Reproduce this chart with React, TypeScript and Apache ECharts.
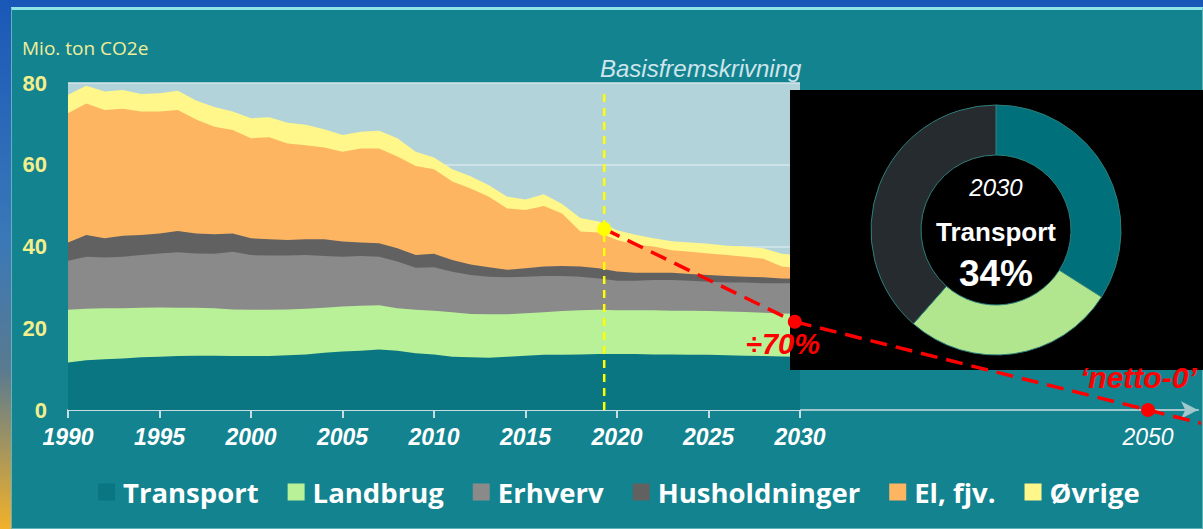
import React, { useEffect, useRef } from "react";
import * as echarts from "echarts";

const years = [
  1990, 1991, 1992, 1993, 1994, 1995, 1996, 1997, 1998, 1999,
  2000, 2001, 2002, 2003, 2004, 2005, 2006, 2007, 2008, 2009,
  2010, 2011, 2012, 2013, 2014, 2015, 2016, 2017, 2018, 2019,
  2020, 2021, 2022, 2023, 2024, 2025, 2026, 2027, 2028, 2029, 2030,
];

const transport = [
  11.6, 12.2, 12.4, 12.6, 12.9, 13.0, 13.2, 13.3, 13.3, 13.2,
  13.2, 13.2, 13.4, 13.6, 14.0, 14.3, 14.5, 14.8, 14.5, 13.9,
  13.6, 13.0, 12.9, 12.8, 13.0, 13.3, 13.5, 13.5, 13.6, 13.7,
  13.7, 13.7, 13.6, 13.6, 13.5, 13.5, 13.4, 13.3, 13.2, 13.1, 13.0,
];
const landbrug = [
  12.9, 12.6, 12.5, 12.3, 12.1, 12.1, 11.8, 11.7, 11.6, 11.4,
  11.3, 11.3, 11.2, 11.2, 11.0, 11.0, 11.0, 10.8, 10.4, 10.6,
  10.7, 10.9, 10.6, 10.6, 10.4, 10.4, 10.4, 10.7, 10.8, 10.8,
  10.7, 10.7, 10.8, 10.7, 10.8, 10.7, 10.7, 10.7, 10.6, 10.5, 10.5,
];
const erhverv = [
  12.0, 12.7, 12.4, 12.6, 12.9, 13.2, 13.6, 13.3, 13.3, 14.1,
  13.4, 13.3, 13.2, 13.1, 12.7, 12.2, 12.2, 11.9, 11.4, 10.3,
  10.6, 9.9, 9.5, 9.2, 9.1, 8.9, 8.9, 8.6, 8.2, 7.7,
  7.2, 7.2, 7.4, 7.5, 7.3, 7.2, 7.1, 7.2, 7.2, 7.4, 7.5,
];
const husholdninger = [
  4.5, 5.3, 4.7, 5.1, 4.9, 4.9, 5.2, 4.9, 4.8, 4.5,
  4.1, 4.0, 3.8, 3.9, 4.1, 3.7, 3.3, 3.3, 3.3, 3.1,
  3.3, 2.9, 2.6, 2.3, 1.8, 2.1, 2.3, 2.4, 2.5, 2.5,
  2.3, 2.0, 1.8, 1.8, 1.7, 1.6, 1.6, 1.4, 1.5, 1.2, 1.1,
];
const elFjv = [
  31.6, 32.2, 31.4, 31.1, 30.2, 29.8, 29.6, 27.9, 26.3, 25.3,
  24.5, 24.9, 23.6, 23.0, 22.4, 22.0, 23.0, 23.2, 22.4, 21.8,
  20.7, 19.2, 18.6, 17.3, 15.0, 14.2, 14.8, 12.9, 8.6, 8.7,
  7.7, 6.8, 6.4, 5.5, 5.4, 5.3, 5.1, 4.9, 4.5, 2.9, 2.5,
];
const ovrige = [
  4.5, 4.3, 4.5, 4.6, 4.3, 4.5, 4.7, 4.6, 4.8, 4.5,
  4.9, 4.9, 5.1, 5.0, 4.5, 4.1, 4.1, 4.3, 4.5, 3.5,
  2.9, 3.0, 3.0, 2.8, 2.9, 2.6, 2.9, 2.3, 3.3, 2.7,
  2.4, 2.5, 2.0, 2.2, 2.3, 2.4, 2.3, 2.5, 2.6, 3.1, 3.2,
];

const seriesNames = ["Transport", "Landbrug", "Erhverv", "Husholdninger", "El, fjv.", "Øvrige"];
const seriesValues = [transport, landbrug, erhverv, husholdninger, elFjv, ovrige];
const seriesColors = ["#0a7682", "#b9f198", "#8a8a8a", "#616161", "#fdb562", "#fff78a"];

const yTicks = { min: 0, max: 80, interval: 20 };

// Basisfremskrivning & target path
const basisYear = 2019.3;
const basisTop = 78.3;
const basisPoint = [2019.3, 44.3];
const target2030 = [2029.7, 21.6];
const target2050 = [2050, 0];
const pathEnd = [2053.2, -3.4];

// Donut for 2030
const donutNames = ["Transport", "Landbrug", "Øvrige sektorer"];
const donutValues = [34, 27.5, 38.5];
const donutColors = ["#00707a", "#b1e68e", "#262b2f"];

export default function App() {
  const ref = useRef<HTMLDivElement>(null);

  useEffect(() => {
    if (!ref.current) return;
    const chart = echarts.init(ref.current, undefined, { renderer: "svg" });

    // cumulative tops of the stack (value x-axis, so stacking is done here)
    const cumulative: number[][] = [];
    seriesValues.forEach((vals, i) => {
      cumulative.push(vals.map((v, j) => +(v + (i > 0 ? cumulative[i - 1][j] : 0)).toFixed(2)));
    });

    // draw top layer first so lower layers paint over it
    const areaSeries = seriesNames
      .map((name, i) => ({
        name,
        type: "line",
        xAxisIndex: 0,
        yAxisIndex: 0,
        symbol: "none",
        lineStyle: { width: 0 },
        areaStyle: { color: seriesColors[i], opacity: 1, origin: "start" },
        itemStyle: { color: seriesColors[i] },
        data: years.map((y, j) => [y, cumulative[i][j]]),
        z: 2,
        silent: true,
      }))
      .reverse();

    const yearLabel = (v: number) => String(v);

    const option: any = {
      animation: false,
      backgroundColor: "transparent",
      grid: [
        { left: 68, top: 83, width: 732, height: 327, show: true, backgroundColor: "#b3d3db", borderWidth: 0 },
        { left: 800, top: 83, width: 398, height: 327 },
      ],
      xAxis: [
        {
          gridIndex: 0,
          type: "value",
          min: 1990,
          max: 2030,
          interval: 5,
          axisLine: { lineStyle: { color: "#c9dde1", width: 2 } },
          axisTick: { length: 8, lineStyle: { color: "#c9dde1", width: 2 } },
          axisLabel: {
            margin: 15,
            color: "#ffffff",
            fontSize: 23,
            fontStyle: "italic",
            fontWeight: "bold",
            fontFamily: "Liberation Sans",
            formatter: yearLabel,
          },
          splitLine: { show: false },
        },
        {
          gridIndex: 1,
          type: "value",
          min: 2030,
          max: 2052.87,
          axisLine: {
            symbol: ["none", "arrow"],
            symbolSize: [13, 17],
            lineStyle: { color: "#9fc7cc", width: 2 },
          },
          axisTick: { show: false },
          splitLine: { show: false },
          axisLabel: {
            customValues: [2050],
            margin: 15,
            color: "#ffffff",
            fontSize: 23,
            fontStyle: "italic",
            fontFamily: "Liberation Sans",
            formatter: yearLabel,
          },
        },
      ],
      yAxis: [
        {
          gridIndex: 0,
          type: "value",
          min: yTicks.min,
          max: yTicks.max,
          interval: yTicks.interval,
          axisLine: { show: false },
          axisTick: { show: false },
          axisLabel: {
            margin: 21,
            color: "#f3ef8c",
            fontSize: 22,
            fontWeight: "bold",
            fontFamily: "Liberation Sans",
          },
          splitLine: { lineStyle: { color: "#d6e7eb", width: 1.5 } },
        },
        { gridIndex: 1, type: "value", min: yTicks.min, max: yTicks.max, show: false },
      ],
      legend: {
        data: seriesNames,
        left: 93,
        top: 473,
        icon: "rect",
        itemWidth: 17,
        itemHeight: 17,
        itemGap: 29,
        textStyle: {
          color: "#ffffff",
          fontSize: 27.5,
          fontWeight: "bold",
          fontFamily: "Open Sans",
          padding: [0, 0, 0, 3],
        },
        selectedMode: false,
      },
      series: [
        ...areaSeries,
        {
          name: "basis",
          type: "line",
          xAxisIndex: 0,
          yAxisIndex: 0,
          symbol: "none",
          clip: false,
          lineStyle: { color: "#ffff00", width: 2.5, type: [8, 6] },
          data: [[basisYear, 0], [basisYear, basisTop]],
          z: 4,
          silent: true,
        },
        {
          name: "pathA",
          type: "line",
          xAxisIndex: 0,
          yAxisIndex: 0,
          symbol: "none",
          clip: false,
          lineStyle: { color: "#ff0000", width: 3.5, type: [17, 9] },
          data: [basisPoint, target2030],
          z: 20,
          silent: true,
        },
        {
          name: "pathB",
          type: "line",
          xAxisIndex: 1,
          yAxisIndex: 1,
          symbol: "none",
          clip: false,
          lineStyle: { color: "#ff0000", width: 3.5, type: [17, 9] },
          data: [target2030, target2050, pathEnd],
          z: 20,
          silent: true,
        },
        {
          name: "basisDot",
          type: "scatter",
          xAxisIndex: 0,
          yAxisIndex: 0,
          symbolSize: 14,
          clip: false,
          itemStyle: { color: "#ffff00", opacity: 1 },
          data: [basisPoint],
          z: 21,
          silent: true,
        },
        {
          name: "targetDots",
          type: "scatter",
          xAxisIndex: 1,
          yAxisIndex: 1,
          symbolSize: 14,
          clip: false,
          itemStyle: { color: "#ff0000", opacity: 1 },
          data: [target2030, target2050],
          z: 21,
          silent: true,
        },
        {
          name: "donut",
          type: "pie",
          center: [996, 230],
          radius: [75, 125],
          startAngle: 90,
          clockwise: true,
          label: { show: false },
          labelLine: { show: false },
          legendHoverLink: false,
          silent: true,
          emphasis: { disabled: true },
          itemStyle: { borderColor: "#2e7f7b", borderWidth: 1 },
          data: donutNames.map((n, i) => ({ name: n, value: donutValues[i], itemStyle: { color: donutColors[i] } })),
          z: 10,
        },
      ],
      graphic: [
        { type: "rect", z: 5, shape: { x: 790, y: 90, width: 413, height: 280 }, style: { fill: "#000000" }, silent: true },
        {
          type: "text",
          z: 30,
          x: 22,
          y: 48,
          style: { text: "Mio. ton CO2e", fill: "#f1ee98", fontSize: 19, fontFamily: "Open Sans", verticalAlign: "middle" },
        },
        {
          type: "text",
          z: 30,
          x: 600,
          y: 68,
          style: { text: "Basisfremskrivning", fill: "#cfe5ec", fontSize: 24, fontStyle: "italic", fontFamily: "Liberation Sans", verticalAlign: "middle" },
        },
        {
          type: "text",
          z: 30,
          x: 996,
          y: 187,
          style: { text: "2030", fill: "#ffffff", fontSize: 24, fontStyle: "italic", fontFamily: "Liberation Sans", align: "center", verticalAlign: "middle" },
        },
        {
          type: "text",
          z: 30,
          x: 996,
          y: 232,
          style: { text: "Transport", fill: "#ffffff", fontSize: 26, fontWeight: "bold", fontFamily: "Liberation Sans", align: "center", verticalAlign: "middle" },
        },
        {
          type: "text",
          z: 30,
          x: 996,
          y: 273,
          style: { text: "34%", fill: "#ffffff", fontSize: 37, fontWeight: "bold", fontFamily: "Liberation Sans", align: "center", verticalAlign: "middle" },
        },
        {
          type: "text",
          z: 30,
          x: 746,
          y: 344,
          style: { text: "÷70%", fill: "#ff0000", fontSize: 29, fontWeight: "bold", fontStyle: "italic", fontFamily: "Liberation Sans", verticalAlign: "middle" },
        },
        {
          type: "text",
          z: 30,
          x: 1080,
          y: 377,
          style: { text: "‘netto-0’", fill: "#ff0000", fontSize: 30, fontWeight: "bold", fontStyle: "italic", fontFamily: "Liberation Sans", verticalAlign: "middle" },
        },
      ],
    };

    chart.setOption(option);
    return () => chart.dispose();
  }, []);

  return (
    <div style={{ position: "fixed", left: 0, top: 0, width: 1203, height: 529, overflow: "hidden" }}>
      <div
        style={{
          position: "absolute",
          left: 0,
          top: 0,
          width: 1203,
          height: 529,
          background: "linear-gradient(to bottom, #1a58b8 0%, #3a78b8 45%, #5a7a90 70%, #f2b12a 100%)",
        }}
      />
      <div
        style={{
          position: "absolute",
          left: 11,
          top: 7,
          width: 1190,
          height: 518,
          background: "#13838f",
          borderTop: "3px solid #8fe6e6",
          borderLeft: "1px solid #5fb4bc",
          borderRight: "1px solid #5fb4bc",
          borderBottom: "1px solid #5fb4bc",
        }}
      />
      <div ref={ref} style={{ position: "absolute", left: 0, top: 0, width: 1203, height: 529 }} />
    </div>
  );
}
